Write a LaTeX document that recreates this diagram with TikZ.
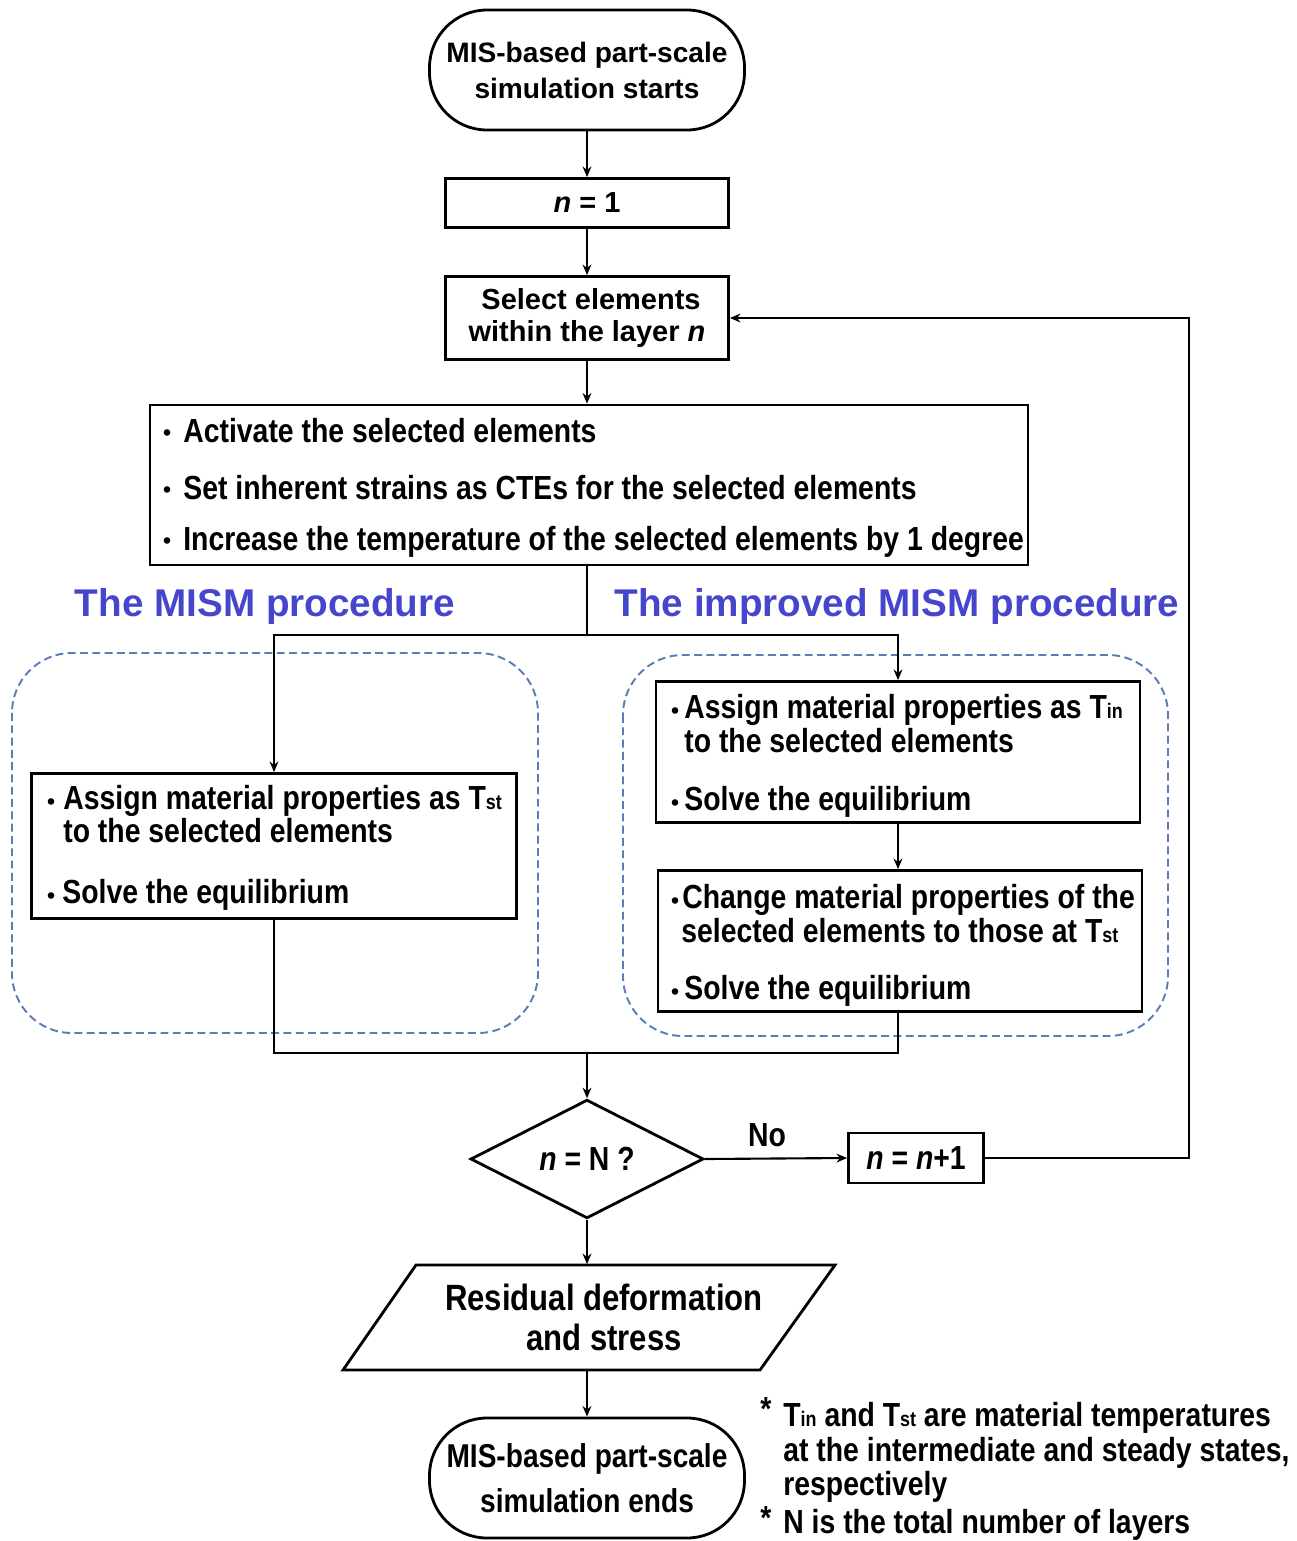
\documentclass[tikz,border=0pt]{standalone}
\usepackage{fontspec}
\setmainfont{Liberation Sans}
\newfontfamily\nar[FakeStretch=0.85]{Liberation Sans}
\usetikzlibrary{shapes.geometric,arrows.meta}
\definecolor{headblue}{RGB}{70,70,205}
\definecolor{dashblue}{RGB}{90,125,185}
\newcommand\fsz[2]{\fontsize{#1}{#2}\selectfont}
\newcommand\Tsb[1]{T{\fsz{12}{12}#1}}
\tikzset{
  ln/.style={line width=1.2pt},
  arr/.style={ln,-{Stealth[length=6pt,width=5pt]}},
  boxst/.style={draw,line width=1.6pt,inner sep=0pt},
  term/.style={boxst,rounded corners=1.15cm,minimum width={315*0.02cm},minimum height={120*0.02cm}},
  grp/.style={draw=dashblue,line width=1.1pt,dash pattern=on 4.5pt off 2.5pt,rounded corners=1.2cm},
  nt/.style={font=\nar\bfseries\fsz{19}{19},inner sep=0pt,anchor=base west},
  bl/.style={font=\bfseries\fsz{13}{13},inner sep=0pt,anchor=base},
  head/.style={font=\bfseries\fsz{22}{22},text=headblue,inner sep=0pt},
}
\begin{document}
\begin{tikzpicture}[x=0.02cm,y=-0.02cm]
\useasboundingbox (0,0) rectangle (1296,1541);
% dashed groups
\draw[grp] (12,653) rectangle (538,1033);
\draw[grp] (623,655) rectangle (1168,1036);
% main nodes
\node[term,align=center,font=\bfseries\fsz{16}{20.5}] (start) at (587,70) {MIS-based part-scale\\simulation starts};
\node[boxst,minimum width={283*0.02cm},minimum height={49*0.02cm},font=\bfseries\fsz{16.5}{20}] (n1) at (587,203) {\textit{n} = 1};
\node[boxst,minimum width={283*0.02cm},minimum height={83*0.02cm},align=center,font=\bfseries\fsz{16.5}{18.2}] (sel) at (587,318) {\ Select elements\\within the layer \textit{n}};
\node[boxst,minimum width={878*0.02cm},minimum height={160*0.02cm}] (act) at (589,485) {};
\node[bl] (b1) at (167,440) {•};
\node[nt] (a1) at (183,442) {Activate the selected elements};
\node[bl] (b2) at (167,497) {•};
\node[nt] (a2) at (183,499) {Set inherent strains as CTEs for the selected elements};
\node[bl] (b3) at (167,548) {•};
\node[nt] (a3) at (183,550) {Increase the temperature of the selected elements by 1 degree};
% headings
\node[head] (h1) at (265,606) {The MISM procedure};
\node[head] (h2) at (897,606) {The improved MISM procedure};
% left box
\node[boxst,minimum width={485*0.02cm},minimum height={145*0.02cm}] (lb) at (274,846) {};
\node[bl] (lb1) at (51,809) {•};
\node[nt] (l1) at (63,809) {Assign material properties as \Tsb{st}};
\node[nt] (l2) at (63,842) {to the selected elements};
\node[bl] (lb3) at (51,903) {•};
\node[nt] (l3) at (62,903) {Solve the equilibrium};
% right box 1
\node[bl] (rbb1) at (675,718) {•};
\node[nt] (r1) at (684,718) {Assign material properties as \Tsb{in}};
\node[nt] (r2) at (684,752) {to the selected elements};
\node[bl] (rbb3) at (675,810) {•};
\node[nt] (r3) at (684,810) {Solve the equilibrium};
\node[boxst,minimum width={484*0.02cm},minimum height={141*0.02cm}] (rb1) at (898,752) {};
% right box 2
\node[boxst,minimum width={484*0.02cm},minimum height={141*0.02cm}] (rb2) at (900,941) {};
\node[bl] (sb1) at (675,908) {•};
\node[nt] (s1) at (682,908) {Change material properties of the};
\node[nt] (s2) at (681,942) {selected elements to those at \Tsb{st}};
\node[bl] (sb3) at (675,999) {•};
\node[nt] (s3) at (684,999) {Solve the equilibrium};
% decision
\node[draw,diamond,line width=1.6pt,minimum width={233*0.02cm},minimum height={114*0.02cm},inner sep=0pt,font=\nar\bfseries\fsz{19}{19}] (dec) at (587,1159) {\textit{n} = N ?};
\node[font=\nar\bfseries\fsz{19}{19},inner sep=0pt] (no) at (767,1135) {No};
\node[boxst,minimum width={135*0.02cm},minimum height={50*0.02cm},font=\nar\bfseries\fsz{19}{19}] (inc) at (916,1158) {\textit{n} = \textit{n}+1};
% output parallelogram
\draw[line width=1.6pt] (416,1265) -- (835,1265) -- (760,1370) -- (343,1370) -- cycle;
\node[minimum height={105*0.02cm},minimum width={300*0.02cm},inner sep=0pt] (res) at (587,1317) {};
\node[align=center,font=\nar\bfseries\fsz{20.8}{22.7},inner sep=0pt] (rest) at (604,1317) {Residual deformation\\and stress};
% end
\node[term,align=center,font=\nar\bfseries\fsz{18.8}{25.5}] (end) at (587,1478) {MIS-based part-scale\\simulation ends};
% notes
\node[nt] (st1) at (760,1420) {*};
\node[nt] (t1) at (783,1426) {\Tsb{in} and \Tsb{st} are material temperatures};
\node[nt] (t2) at (783,1461) {at the intermediate and steady states,};
\node[nt] (t3) at (783,1495) {respectively};
\node[nt] (st2) at (760,1529) {*};
\node[nt] (t4) at (783,1533) {N is the total number of layers};
% connectors
\draw[arr] (start) -- (n1);
\draw[arr] (n1) -- (sel);
\draw[arr] (sel) -- (act.north -| sel.south);
\coordinate (split) at (587,635);
\draw[ln] (act.south -| split) -- (split);
\draw[arr] (split) -| (lb.north);
\draw[arr] (split) -| (rb1.north);
\draw[arr] (rb1.south) -- (rb1.south |- rb2.north);
\coordinate (merge) at (587,1053);
\draw[ln] (lb.south) |- (merge);
\draw[ln] (rb1.south |- rb2.south) |- (merge);
\draw[arr] (merge) -- (dec.north);
\draw[arr] (dec.east) -- (inc.west);
\coordinate (loopR) at (1189,1158);
\draw[arr] (inc.east) -- (loopR) |- (sel.east);
\draw[arr] (dec.south) -- (res.north);
\draw[arr] (res.south) -- (end.north);
\end{tikzpicture}
\end{document}
